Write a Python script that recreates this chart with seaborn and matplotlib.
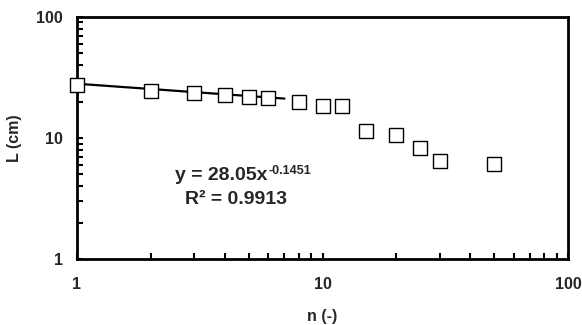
import matplotlib
matplotlib.use('Agg')
import matplotlib.pyplot as plt
import seaborn as sns
import numpy as np
import pandas as pd
from matplotlib.ticker import LogLocator, FixedLocator, NullFormatter

sns.set_style('white')
plt.rcParams['font.family'] = ['Liberation Sans', 'DejaVu Sans']
plt.rcParams['font.weight'] = 'bold'

# measured points
n_vals = [1, 2, 3, 4, 5, 6, 8, 10, 12, 15, 20, 25, 30, 50]
L_vals = [27.6, 24.6, 23.7, 22.7, 21.9, 21.4, 19.9, 18.5, 18.3, 11.4, 10.5, 8.3, 6.45, 6.1]
data = pd.DataFrame({'n': n_vals, 'L': L_vals})

# power trendline y = 28.05 x^-0.1451, drawn over n = 1..7
coef_a = 28.05
coef_b = -0.1451
fit_n = [1, 7]
fit_L = [coef_a * x ** coef_b for x in fit_n]

fig = plt.figure(figsize=(5.82, 3.25), dpi=100)
ax = fig.add_axes([0.1323, 0.203, 0.8437, 0.745])

sns.lineplot(x=fit_n, y=fit_L, ax=ax, color='black', linewidth=1.6)
sns.scatterplot(x='n', y='L', data=data, ax=ax, marker='s', s=105,
                facecolor='white', edgecolor='black', linewidth=1.0,
                zorder=3, clip_on=False)

ax.set_xscale('log')
ax.set_yscale('log')
ax.set_xlim(1, 100)
ax.set_ylim(1, 100)

ax.xaxis.set_major_locator(FixedLocator([1, 10, 100]))
ax.yaxis.set_major_locator(FixedLocator([1, 10, 100]))
ax.set_xticklabels(['1', '10', '100'])
ax.set_yticklabels(['1', '10', '100'])
ax.xaxis.set_minor_locator(LogLocator(base=10, subs=np.arange(2, 10)))
ax.yaxis.set_minor_locator(LogLocator(base=10, subs=np.arange(2, 10)))
ax.xaxis.set_minor_formatter(NullFormatter())
ax.yaxis.set_minor_formatter(NullFormatter())

ax.tick_params(axis='both', which='both', direction='in', color='black',
               bottom=True, left=True, top=False, right=False,
               length=4, width=1.5)
ax.tick_params(axis='both', which='major', labelsize=11.5)
ax.tick_params(axis='y', which='major', pad=10)
ax.tick_params(axis='x', which='major', pad=13)

for sp in ax.spines.values():
    sp.set_color('black')
    sp.set_linewidth(2)

ax.set_xlabel('n (-)', fontsize=11.5, fontweight='bold', labelpad=12)
ax.set_ylabel('L (cm)', fontsize=11.5, fontweight='bold', labelpad=10)

# equation texts, placed in pixel coords measured from the top of the figure
flip = matplotlib.transforms.Affine2D().scale(1, -1).translate(0, 325)
eq = ax.text(175, 175, 'y = 28.05x', fontsize=14, fontweight='bold',
             ha='left', va='center')
eq.set_transform(flip)
ax.annotate('-0.1451', xy=(1, 1), xycoords=eq, xytext=(1, 1),
            textcoords='offset points', fontsize=9, fontweight='bold',
            ha='left', va='top')
r2 = ax.text(185, 199, 'R² = 0.9913', fontsize=14, fontweight='bold',
             ha='left', va='center')
r2.set_transform(flip)

fig.savefig('out.png', dpi=100)
